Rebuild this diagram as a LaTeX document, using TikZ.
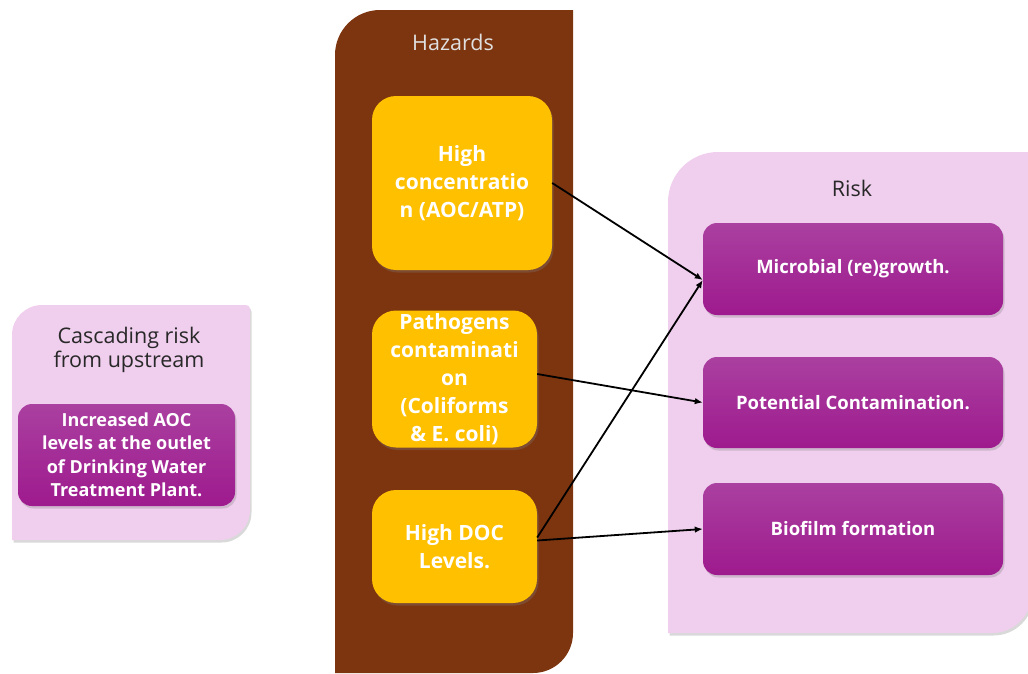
\documentclass[tikz,border=0pt]{standalone}
\usepackage{fontspec}
\setmainfont{Open Sans}
\usetikzlibrary{arrows.meta,shadows}

\definecolor{panelpink}{RGB}{240,206,238}
\definecolor{hazardbrown}{RGB}{125,53,15}
\definecolor{hazyellow}{RGB}{255,192,0}
\definecolor{purpletop}{RGB}{170,64,160}
\definecolor{purplebot}{RGB}{158,26,142}
\definecolor{titlegray}{RGB}{40,40,40}

\begin{document}
\begin{tikzpicture}[x=1pt,y=-1pt,
  softshadow/.style={drop shadow={opacity=0.3,shadow xshift=1.5pt,shadow yshift=-2.5pt}},
  panel/.style={fill=panelpink,softshadow},
  paneltitle/.style={text=titlegray,align=center,font=\fontsize{21.5}{24}\selectfont},
  hazbox/.style={rounded corners=24pt,fill=hazyellow,text=white,align=center,inner sep=0pt,
    font=\bfseries\fontsize{21}{28}\selectfont,softshadow},
  riskbox/.style={rounded corners=14pt,top color=purpletop,bottom color=purplebot,text=white,
    align=center,inner sep=0pt,font=\bfseries\fontsize{18.5}{23}\selectfont,softshadow},
  link/.style={-{Latex[length=8pt,width=6.5pt]},line width=1.8pt,black}]

\useasboundingbox (0,0) rectangle (1028,673);

% --- upstream panel ---
\path[panel] (12,540) -- (12,335) arc[start angle=180,end angle=270,radius=30]
  -- (246,305) arc[start angle=270,end angle=360,radius=4]
  -- (250,510) arc[start angle=0,end angle=90,radius=30] -- cycle;
\node[paneltitle] (uptitle) at (129,350) {Cascading risk\\from upstream};
\node[riskbox,minimum width=217pt,minimum height=102pt,
  font=\bfseries\fontsize{18}{23.5}\selectfont] (aoc) at (126.5,455)
  {Increased AOC\\levels at the outlet\\of Drinking Water\\Treatment Plant.};

% --- hazards column ---
\path[fill=hazardbrown] (335,673) -- (335,55) arc[start angle=180,end angle=270,radius=45]
  -- (573,10) -- (573,633) arc[start angle=0,end angle=90,radius=40] -- cycle;
\node[text=white!88!black,font=\fontsize{21.5}{24}\selectfont] (haztitle) at (453,42) {Hazards};

\node[hazbox,minimum width=180pt,minimum height=174pt] (h1) at (462,183)
  {High\\concentratio\\n (AOC/ATP)};
\node[hazbox,minimum width=165pt,minimum height=137pt] (h2) at (454.5,379)
  {Pathogens\\contaminati\\on\\(Coliforms\\\& E. coli)};
\node[hazbox,minimum width=165pt,minimum height=113pt] (h3) at (454.5,546.5)
  {High DOC\\Levels.};

% --- risk panel ---
\path[panel] (668,633) -- (668,202) arc[start angle=180,end angle=270,radius=50]
  -- (1032,152) -- (1032,593) arc[start angle=0,end angle=90,radius=40] -- cycle;
\node[paneltitle] (risktitle) at (852,188) {Risk};

\node[riskbox,minimum width=300pt,minimum height=92pt] (r1) at (853,269)
  {Microbial (re)growth.};
\node[riskbox,minimum width=300pt,minimum height=91pt] (r2) at (853,402.5)
  {Potential Contamination.};
\node[riskbox,minimum width=300pt,minimum height=92pt] (r3) at (853,529)
  {Biofilm formation};

% --- hazard to risk links ---
\draw[link] (h1.east) -- ([yshift=-11pt]r1.west);
\draw[link] ([yshift=5pt]h2.east) -- (r2.west);
\draw[link] ([yshift=9pt]h3.east) -- ([yshift=-11pt]r1.west);
\draw[link] ([yshift=6pt]h3.east) -- (r3.west);

\end{tikzpicture}
\end{document}
